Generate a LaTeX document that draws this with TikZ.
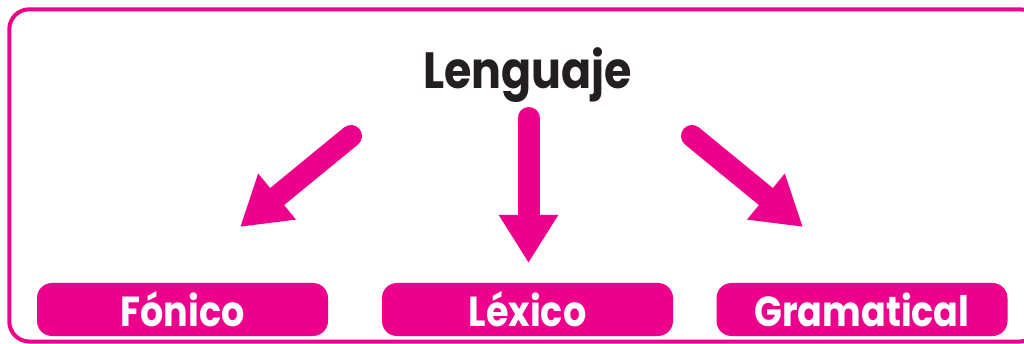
\documentclass[tikz,border=0pt]{standalone}
\usepackage{fontspec}
\setmainfont{Poppins}[FakeStretch=0.87]
\usetikzlibrary{arrows.meta}
\definecolor{pink}{HTML}{EC008C}
\definecolor{ink}{HTML}{231F20}
\begin{document}
\begin{tikzpicture}[x=1pt,y=-1pt,
  box/.style={fill=pink,rounded corners=15pt,minimum width=291pt,minimum height=53pt,inner sep=0pt,
    text=white,font=\fontsize{42}{44}\selectfont\bfseries},
  fatarrow/.style={draw=pink,line width=22pt,line cap=round,-{Triangle[width=56pt,length=48pt]}},
  frame/.style={draw=pink,line width=4pt,rounded corners=20pt}]
\useasboundingbox (0,0) rectangle (1024,344);
\begin{scope}
\clip (0,0) rectangle (1024,344);
\draw[frame] (9.3,9.3) rectangle (1040,341.5);
\end{scope}
\node[font=\fontsize{51}{54}\selectfont\bfseries,text=ink,anchor=base] (lang) at (527.5,89) {Lenguaje};
\node[box] (fon) at (182.5,309.5) {Fónico};
\node[box] (lex) at (527.5,309.5) {Léxico};
\node[box] (gra) at (862,309.5) {Gramatical};
\coordinate (tA) at (351,136);
\coordinate (pA) at (240,227);
\coordinate (tB) at (528.5,118);
\coordinate (pB) at (528.5,263);
\coordinate (tC) at (692,136);
\coordinate (pC) at (803,227);
\draw[fatarrow] (tA) -- (pA);
\draw[fatarrow] (tB) -- (pB);
\draw[fatarrow] (tC) -- (pC);
\end{tikzpicture}
\end{document}
